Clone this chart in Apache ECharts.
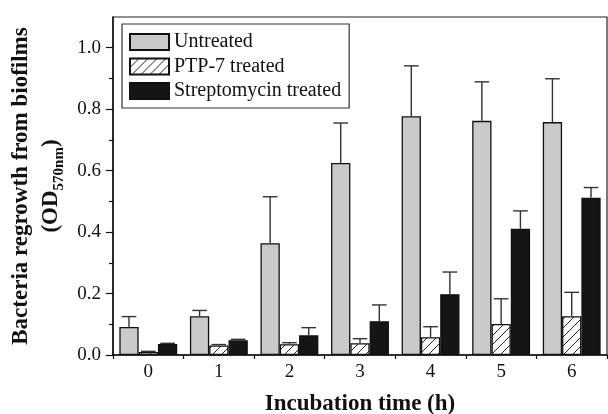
<!DOCTYPE html>
<html>
<head>
<meta charset="utf-8">
<script src="https://cdn.jsdelivr.net/npm/echarts@6/dist/echarts.min.js"></script>
<style>
html,body{margin:0;padding:0;background:#fff;}
#chart{width:608px;height:414px;}
</style>
</head>
<body>
<div id="chart"></div>
<script>
const categories = ['0', '1', '2', '3', '4', '5', '6'];
const seriesNames = ['Untreated', 'PTP-7 treated', 'Streptomycin treated'];
const untreated = [0.091, 0.126, 0.364, 0.625, 0.777, 0.762, 0.758];
const untreatedSD = [0.034, 0.019, 0.151, 0.130, 0.164, 0.127, 0.141];
const ptp7 = [0.010, 0.031, 0.035, 0.038, 0.058, 0.101, 0.126];
const ptp7SD = [0.002, 0.003, 0.005, 0.015, 0.034, 0.082, 0.078];
const strep = [0.036, 0.048, 0.064, 0.110, 0.198, 0.411, 0.512];
const strepSD = [0.002, 0.003, 0.025, 0.053, 0.072, 0.058, 0.033];
const majorTicks = [0, 0.2, 0.4, 0.6, 0.8, 1.0];
const minorTicks = [0.1, 0.3, 0.5, 0.7, 0.9];

const FONT = '"Liberation Serif", "Times New Roman", serif';

function hatch() {
  const c = document.createElement('canvas');
  const s = 9;
  c.width = s; c.height = s;
  const g = c.getContext('2d');
  g.fillStyle = '#fff';
  g.fillRect(0, 0, s, s);
  g.strokeStyle = '#222';
  g.lineWidth = 1;
  g.beginPath();
  g.moveTo(0, s); g.lineTo(s, 0);
  g.moveTo(-2, 2); g.lineTo(2, -2);
  g.moveTo(s - 2, s + 2); g.lineTo(s + 2, s - 2);
  g.stroke();
  return c;
}

const values = [untreated, ptp7, strep];
const sds = [untreatedSD, ptp7SD, strepSD];
const fills = ['#c9cacc', { image: hatch(), repeat: 'repeat' }, '#151515'];
const GAP = 0.18;

const series = [];
values.forEach((vals, si) => {
  series.push({
    name: seriesNames[si],
    type: 'bar',
    data: vals,
    barGap: '0%',
    barCategoryGap: (GAP * 100) + '%',
    itemStyle: { color: fills[si], borderColor: '#111', borderWidth: 1.3 },
    z: 2
  });
});
values.forEach((vals, si) => {
  series.push({
    type: 'custom',
    z: 3,
    silent: true,
    data: vals.map((v, i) => [i, v, v + sds[si][i]]),
    encode: { x: 0, y: [1, 2] },
    renderItem: function (params, api) {
      const idx = api.value(0);
      const band = api.size([1, 0])[0];
      const bw = band * (1 - GAP) / 3;
      const off = (si - 1) * bw;
      const p0 = api.coord([idx, api.value(1)]);
      const p1 = api.coord([idx, api.value(2)]);
      const x = p0[0] + off;
      const cap = bw * 0.38;
      const st = { stroke: '#333', lineWidth: 1.4 };
      return {
        type: 'group',
        children: [
          { type: 'line', shape: { x1: x, y1: p0[1], x2: x, y2: p1[1] }, style: st },
          { type: 'line', shape: { x1: x - cap, y1: p1[1], x2: x + cap, y2: p1[1] }, style: st }
        ]
      };
    }
  });
});

const chart = echarts.init(document.getElementById('chart'), null, { renderer: 'canvas' });
chart.setOption({
  animation: false,
  backgroundColor: '#fff',
  textStyle: { fontFamily: FONT },
  grid: { left: 113, right: 1, top: 17, bottom: 59, outerBoundsMode: 'none', containLabel: false, show: true, borderColor: '#222', borderWidth: 1.2, backgroundColor: 'transparent' },
  legend: {
    data: seriesNames,
    orient: 'vertical',
    left: 122,
    top: 24,
    itemWidth: 39,
    itemHeight: 16,
    itemGap: 4.5,
    padding: [8, 8, 7, 7],
    borderColor: '#333',
    borderWidth: 1.2,
    icon: 'rect',
    textStyle: { fontFamily: FONT, fontSize: 20, color: '#111', lineHeight: 16 }
  },
  xAxis: {
    type: 'category',
    data: categories,
    name: 'Incubation time (h)',
    nameLocation: 'middle',
    nameGap: 38,
    nameTextStyle: { fontFamily: FONT, fontSize: 23, fontWeight: 'bold', color: '#111' },
    axisLine: { lineStyle: { color: '#111', width: 1.5 } },
    axisTick: { show: true, length: 4, lineStyle: { color: '#111', width: 1.2 } },
    axisLabel: { fontFamily: FONT, fontSize: 19, color: '#111', margin: 8 },
    splitLine: { show: false }
  },
  yAxis: [{
    type: 'value',
    min: 0,
    max: 1.1,
    name: '{t|Bacteria regrowth from biofilms}\n{t|(OD}{s|570nm}{t|)}',
    nameLocation: 'middle',
    nameRotate: 90,
    nameGap: 45,
    nameTextStyle: {
      rich: {
        t: { fontFamily: FONT, fontSize: 23, fontWeight: 'bold', color: '#111', lineHeight: 30 },
        s: { fontFamily: FONT, fontSize: 15, fontWeight: 'bold', color: '#111', lineHeight: 30, verticalAlign: 'bottom', padding: [6, 0, 0, 0] }
      }
    },
    axisLine: { show: true, lineStyle: { color: '#111', width: 1.5 } },
    axisTick: { show: true, length: 7, customValues: majorTicks, lineStyle: { color: '#111', width: 1.2 } },
    axisLabel: { customValues: majorTicks, fontFamily: FONT, fontSize: 19, color: '#111', margin: 12, formatter: v => v.toFixed(1) },
    splitLine: { show: false }
  }, {
    type: 'value',
    min: 0,
    max: 1.1,
    position: 'left',
    axisLine: { show: false },
    axisTick: { show: true, length: 4, customValues: minorTicks, lineStyle: { color: '#111', width: 1.2 } },
    axisLabel: { show: false },
    splitLine: { show: false }
  }],
  series: series
});
</script>
</body>
</html>
